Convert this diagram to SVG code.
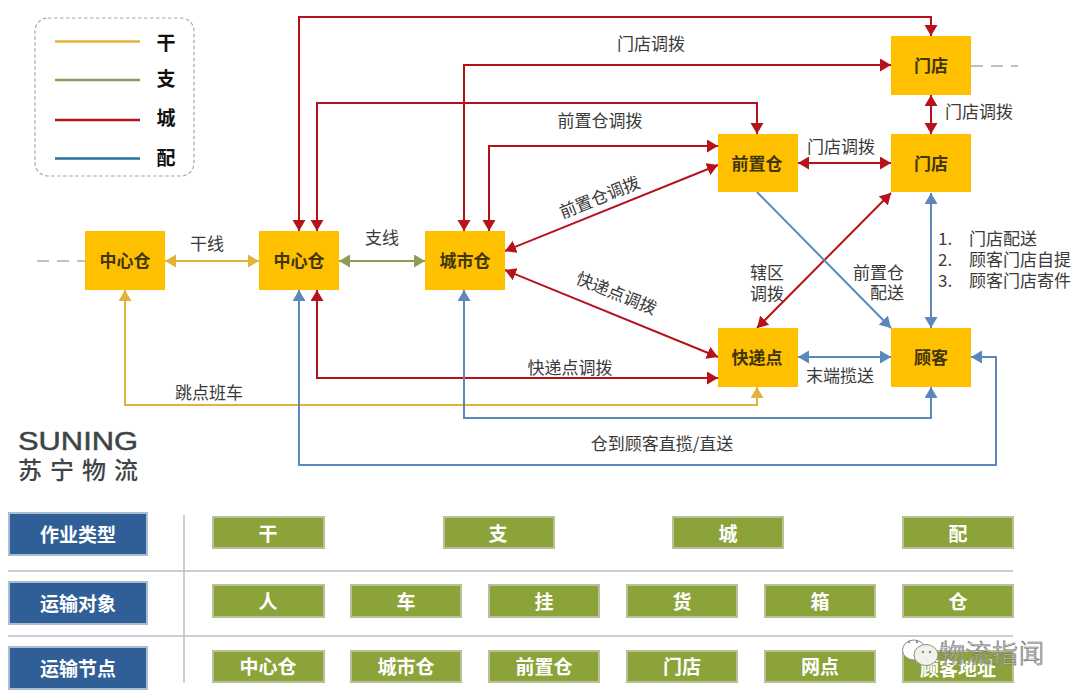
<svg xmlns="http://www.w3.org/2000/svg" width="1080" height="700" viewBox="0 0 1080 700">
<style>
text{font-family:"Noto Sans CJK SC","Liberation Sans",sans-serif;text-anchor:middle;dominant-baseline:central}
.lb{font-size:17px;fill:#3a3a3a}
.ls{text-anchor:start}
.re{text-anchor:end}
.n rect{fill:#FFC000}
.n text{font-size:17px;font-weight:700;fill:#43350a}
.c{fill:none;stroke-width:2}
.r{stroke:#B5121B}
.b{stroke:#5B87BC}
.y{stroke:#E3B23C}
.g{stroke:#8C9C5A}
.k rect{fill:#8CA33A;stroke:#B7C19A;stroke-width:2}
.h rect{fill:#2F5F96;stroke:#A9BDD3;stroke-width:2}
.k text,.h text{font-size:19px;font-weight:700;fill:#fff}
.leg{font-size:19px;font-weight:700;fill:#111}
</style>
<defs>
<marker id="ar" markerUnits="userSpaceOnUse" markerWidth="13" markerHeight="14" refX="11" refY="6.500" orient="auto-start-reverse"><path d="M0 0L11 6.500L0 13Z" fill="#B5121B"/></marker>
<marker id="ab" markerUnits="userSpaceOnUse" markerWidth="13" markerHeight="14" refX="11" refY="6.500" orient="auto-start-reverse"><path d="M0 0L11 6.500L0 13Z" fill="#5B87BC"/></marker>
<marker id="ay" markerUnits="userSpaceOnUse" markerWidth="13" markerHeight="14" refX="11" refY="6.500" orient="auto-start-reverse"><path d="M0 0L11 6.500L0 13Z" fill="#E3B23C"/></marker>
<marker id="ag" markerUnits="userSpaceOnUse" markerWidth="13" markerHeight="14" refX="11" refY="6.500" orient="auto-start-reverse"><path d="M0 0L11 6.500L0 13Z" fill="#8C9C5A"/></marker>
</defs>

<g id="legend">
<rect x="35" y="18" width="159" height="158" rx="13" fill="#fff" stroke="#A6A6A6" stroke-width="1.2" stroke-dasharray="3.5 2.5"/>
<path d="M55 41.500H140" stroke="#E3B23C" stroke-width="2.500"/>
<path d="M55 80H140" stroke="#8C9C5A" stroke-width="2.500"/>
<path d="M55 120H140" stroke="#B5121B" stroke-width="2.500"/>
<path d="M55 158.500H140" stroke="#2A6F9E" stroke-width="2.500"/>
<text class="leg" x="166" y="41">干</text>
<text class="leg" x="166" y="77">支</text>
<text class="leg" x="166" y="116.500">城</text>
<text class="leg" x="166" y="156.500">配</text>
</g>

<g id="connectors">
<path d="M37 261H85M971 66H1018" fill="none" stroke="#BFBFBF" stroke-width="2" stroke-dasharray="12 8"/>
<path class="c y" d="M165 261H259" marker-start="url(#ay)" marker-end="url(#ay)"/>
<path class="c g" d="M339 261H425" marker-start="url(#ag)" marker-end="url(#ag)"/>
<path class="c y" d="M125 290V405H757V387" marker-start="url(#ay)" marker-end="url(#ay)"/>
<path class="c r" d="M299 231V17H931V36" marker-start="url(#ar)" marker-end="url(#ar)"/>
<path class="c r" d="M317 231V103H757V134" marker-start="url(#ar)" marker-end="url(#ar)"/>
<path class="c r" d="M464 231V65H891" marker-start="url(#ar)" marker-end="url(#ar)"/>
<path class="c r" d="M489 231V146H718" marker-start="url(#ar)" marker-end="url(#ar)"/>
<path class="c r" d="M505 251L718 165" marker-start="url(#ar)" marker-end="url(#ar)"/>
<path class="c r" d="M505 270L718 357" marker-start="url(#ar)" marker-end="url(#ar)"/>
<path class="c r" d="M317 290V378H718" marker-start="url(#ar)" marker-end="url(#ar)"/>
<path class="c r" d="M931 95V134" marker-start="url(#ar)" marker-end="url(#ar)"/>
<path class="c r" d="M798 163H891" marker-start="url(#ar)" marker-end="url(#ar)"/>
<path class="c r" d="M757 328L891 193" marker-start="url(#ar)" marker-end="url(#ar)"/>
<path class="c b" d="M757 192L891 328" marker-end="url(#ab)"/>
<path class="c b" d="M931 193V328" marker-start="url(#ab)" marker-end="url(#ab)"/>
<path class="c b" d="M798 357H891" marker-start="url(#ab)" marker-end="url(#ab)"/>
<path class="c b" d="M464 290V418H931V387" marker-start="url(#ab)" marker-end="url(#ab)"/>
<path class="c b" d="M299 290V465H996V357H971" marker-start="url(#ab)" marker-end="url(#ab)"/>
</g>

<g id="labels">
<text class="lb" x="651" y="42">门店调拨</text>
<text class="lb" x="600" y="119.500">前置仓调拨</text>
<text class="lb" transform="translate(599 196) rotate(-22)">前置仓调拨</text>
<text class="lb" transform="translate(617 292) rotate(22)">快递点调拨</text>
<text class="lb" x="570" y="366.500">快递点调拨</text>
<text class="lb" x="209" y="391">跳点班车</text>
<text class="lb" x="207" y="242">干线</text>
<text class="lb" x="382" y="236">支线</text>
<text class="lb" x="979" y="110">门店调拨</text>
<text class="lb" x="841" y="145">门店调拨</text>
<text class="lb" x="767" y="271">辖区</text>
<text class="lb" x="767" y="292">调拨</text>
<text class="lb re" x="904" y="271">前置仓</text>
<text class="lb re" x="904" y="291">配送</text>
<text class="lb" x="840" y="374">末端揽送</text>
<text class="lb" x="662" y="442">仓到顾客直揽/直送</text>
<text class="lb ls" x="938" y="237">1.</text>
<text class="lb ls" x="969" y="237">门店配送</text>
<text class="lb ls" x="938" y="258">2.</text>
<text class="lb ls" x="969" y="258">顾客门店自提</text>
<text class="lb ls" x="938" y="279">3.</text>
<text class="lb ls" x="969" y="279">顾客门店寄件</text>
</g>

<g id="n1" class="n"><rect x="85" y="231" width="80" height="59"/><text x="125" y="259">中心仓</text></g>
<g id="n2" class="n"><rect x="259" y="231" width="80" height="59"/><text x="299" y="259">中心仓</text></g>
<g id="n3" class="n"><rect x="425" y="231" width="80" height="59"/><text x="465" y="259">城市仓</text></g>
<g id="n4" class="n"><rect x="718" y="134" width="80" height="58"/><text x="757" y="162">前置仓</text></g>
<g id="n5" class="n"><rect x="891" y="36" width="80" height="59"/><text x="931" y="64">门店</text></g>
<g id="n6" class="n"><rect x="891" y="134" width="80" height="58"/><text x="931" y="162">门店</text></g>
<g id="n7" class="n"><rect x="718" y="328" width="80" height="59"/><text x="757" y="356">快递点</text></g>
<g id="n8" class="n"><rect x="891" y="328" width="80" height="59"/><text x="931" y="356">顾客</text></g>

<g id="logo">
<text x="78" y="441" style="font-family:'Liberation Sans',sans-serif;font-size:26px;fill:#3f4447;stroke:#3f4447;stroke-width:.5px" textLength="120" lengthAdjust="spacingAndGlyphs">SUNING</text>
<text x="82" y="468" style="font-size:24px;font-weight:500;fill:#3f4447;letter-spacing:8px">苏宁物流</text>
</g>

<g id="grid" fill="none" stroke="#BDBDC4" stroke-width="1.500">
<path d="M8 571H1013M8 636H1013M184 515V683"/>
</g>

<g id="h1" class="h"><rect x="9" y="513" width="138" height="42"/><text x="78" y="533">作业类型</text></g>
<g id="h2" class="h"><rect x="9" y="582" width="138" height="42"/><text x="78" y="602">运输对象</text></g>
<g id="h3" class="h"><rect x="9" y="647" width="138" height="42"/><text x="78" y="667">运输节点</text></g>

<g id="a1" class="k"><rect x="213" y="517" width="111" height="31"/><text x="268" y="532">干</text></g>
<g id="a2" class="k"><rect x="444" y="517" width="110" height="31"/><text x="498" y="532">支</text></g>
<g id="a3" class="k"><rect x="673" y="517" width="110" height="31"/><text x="728" y="532">城</text></g>
<g id="a4" class="k"><rect x="903" y="517" width="110" height="31"/><text x="958" y="532">配</text></g>

<g id="b1" class="k"><rect x="213" y="585" width="111" height="32"/><text x="268" y="600">人</text></g>
<g id="b2" class="k"><rect x="351" y="585" width="110" height="32"/><text x="406" y="600">车</text></g>
<g id="b3" class="k"><rect x="489" y="585" width="110" height="32"/><text x="544" y="600">挂</text></g>
<g id="b4" class="k"><rect x="627" y="585" width="110" height="32"/><text x="682" y="600">货</text></g>
<g id="b5" class="k"><rect x="765" y="585" width="110" height="32"/><text x="820" y="600">箱</text></g>
<g id="b6" class="k"><rect x="903" y="585" width="110" height="32"/><text x="958" y="600">仓</text></g>

<g id="c1" class="k"><rect x="213" y="651" width="111" height="31"/><text x="268" y="665">中心仓</text></g>
<g id="c2" class="k"><rect x="351" y="651" width="110" height="31"/><text x="406" y="665">城市仓</text></g>
<g id="c3" class="k"><rect x="489" y="651" width="110" height="31"/><text x="544" y="665">前置仓</text></g>
<g id="c4" class="k"><rect x="627" y="651" width="110" height="31"/><text x="682" y="665">门店</text></g>
<g id="c5" class="k"><rect x="765" y="651" width="110" height="31"/><text x="820" y="665">网点</text></g>
<g id="c6" class="k"><rect x="903" y="651" width="110" height="31"/><text x="958" y="667">顾客地址</text></g>

<g id="watermark">
<ellipse cx="914" cy="650" rx="11.500" ry="10" fill="#fff" stroke="#8f8f8f" stroke-width="1"/>
<ellipse cx="926" cy="655" rx="12" ry="10.500" fill="#f2f2ea" stroke="#8f8f8f" stroke-width="1"/>
<circle cx="923" cy="652" r="1.300" fill="#8f8f8f"/><circle cx="930" cy="652" r="1.300" fill="#8f8f8f"/>
<circle cx="909" cy="642" r="1.200" fill="#8f8f8f"/><circle cx="917" cy="642" r="1.200" fill="#8f8f8f"/>
<text x="992" y="651" style="font-size:26px;font-weight:300;fill:#fff;stroke:#6f6f6f;stroke-width:.7px;letter-spacing:.5px">物流指闻</text>
</g>
</svg>
